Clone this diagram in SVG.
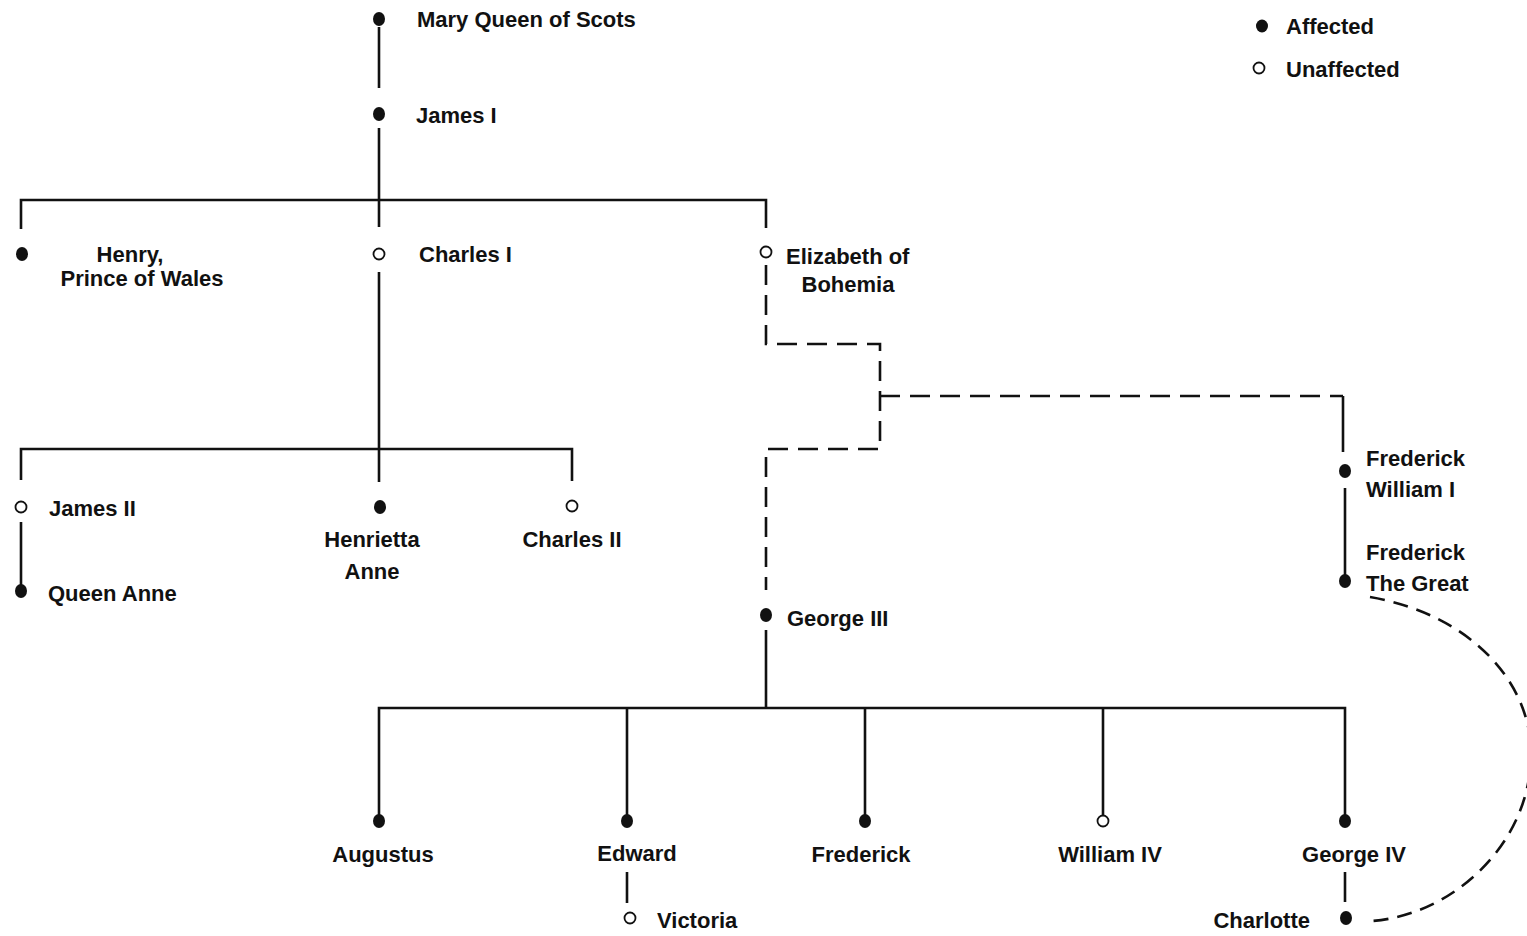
<svg xmlns="http://www.w3.org/2000/svg" width="1527" height="936" viewBox="0 0 1527 936">
<style>
text{font-family:"Liberation Sans",Arial,sans-serif;font-size:22px;font-weight:bold;fill:#111}
.m{text-anchor:middle}
.e{text-anchor:end}
.f{fill:#111}
.o{fill:#fff;stroke:#111;stroke-width:1.8}
.l{fill:none;stroke:#111;stroke-width:2.6}
.d{fill:none;stroke:#111;stroke-width:2.6;stroke-dasharray:20 10}
.c{fill:none;stroke:#111;stroke-width:2.6;stroke-dasharray:15 9}
</style>
<rect width="1527" height="936" fill="#fff"/>
<g id="connectors">
<path class="l" d="M379,27V88M379,128V227M21,229V200H766V228M379,272V482M21,480V449H572V481M21,522V585"/>
<path class="d" d="M766,265V344H880V449H766V590M880,396H1343"/>
<path class="l" d="M1343,396V452M1345,488V575"/>
<path class="l" d="M766,630V708M379,821V708H1345V821M627,708V821M865,708V821M1103,708V816M627,872V903M1345,872V902"/>
<path class="c" d="M1370,597C1475,615 1540,690 1530,770C1522,850 1450,915 1372,921"/>
</g>
<g id="legend">
<ellipse class="f" cx="1262" cy="26" rx="6" ry="6.5"/><text x="1286" y="34">Affected</text>
<circle class="o" cx="1259" cy="68" r="5.5"/><text x="1286" y="77">Unaffected</text>
</g>
<g id="mary"><ellipse class="f" cx="379" cy="19" rx="6" ry="7"/><text x="417" y="27">Mary Queen of Scots</text></g>
<g id="james1"><ellipse class="f" cx="379" cy="114" rx="6" ry="7"/><text x="416" y="123">James I</text></g>
<g id="henry"><ellipse class="f" cx="22" cy="254" rx="6" ry="7"/><text class="m" x="130" y="262">Henry,</text><text class="m" x="142" y="286">Prince of Wales</text></g>
<g id="charles1"><circle class="o" cx="379" cy="254" r="5.5"/><text x="419" y="262">Charles I</text></g>
<g id="elizabeth"><circle class="o" cx="766" cy="252" r="5.5"/><text x="786" y="264">Elizabeth of</text><text class="m" x="848" y="292">Bohemia</text></g>
<g id="james2"><circle class="o" cx="21" cy="507" r="5.5"/><text x="49" y="516">James II</text></g>
<g id="queenanne"><ellipse class="f" cx="21" cy="591" rx="6" ry="7"/><text x="48" y="601">Queen Anne</text></g>
<g id="henrietta"><ellipse class="f" cx="380" cy="507" rx="6" ry="7"/><text class="m" x="372" y="547">Henrietta</text><text class="m" x="372" y="579">Anne</text></g>
<g id="charles2"><circle class="o" cx="572" cy="506" r="5.5"/><text class="m" x="572" y="547">Charles II</text></g>
<g id="fw1"><ellipse class="f" cx="1345" cy="471" rx="6" ry="7"/><text x="1366" y="466">Frederick</text><text x="1366" y="497">William I</text></g>
<g id="fgreat"><ellipse class="f" cx="1345" cy="581" rx="6" ry="7"/><text x="1366" y="560">Frederick</text><text x="1366" y="591">The Great</text></g>
<g id="george3"><ellipse class="f" cx="766" cy="615" rx="6" ry="7"/><text x="787" y="626">George III</text></g>
<g id="augustus"><ellipse class="f" cx="379" cy="821" rx="6" ry="7"/><text class="m" x="383" y="862">Augustus</text></g>
<g id="edward"><ellipse class="f" cx="627" cy="821" rx="6" ry="7"/><text class="m" x="637" y="861">Edward</text></g>
<g id="frederick"><ellipse class="f" cx="865" cy="821" rx="6" ry="7"/><text class="m" x="861" y="862">Frederick</text></g>
<g id="william4"><circle class="o" cx="1103" cy="821" r="5.5"/><text class="m" x="1110" y="862">William IV</text></g>
<g id="george4"><ellipse class="f" cx="1345" cy="821" rx="6" ry="7"/><text class="m" x="1354" y="862">George IV</text></g>
<g id="victoria"><circle class="o" cx="630" cy="918" r="5.5"/><text x="657" y="928">Victoria</text></g>
<g id="charlotte"><ellipse class="f" cx="1346" cy="918" rx="6" ry="7"/><text class="e" x="1310" y="928">Charlotte</text></g>
</svg>
